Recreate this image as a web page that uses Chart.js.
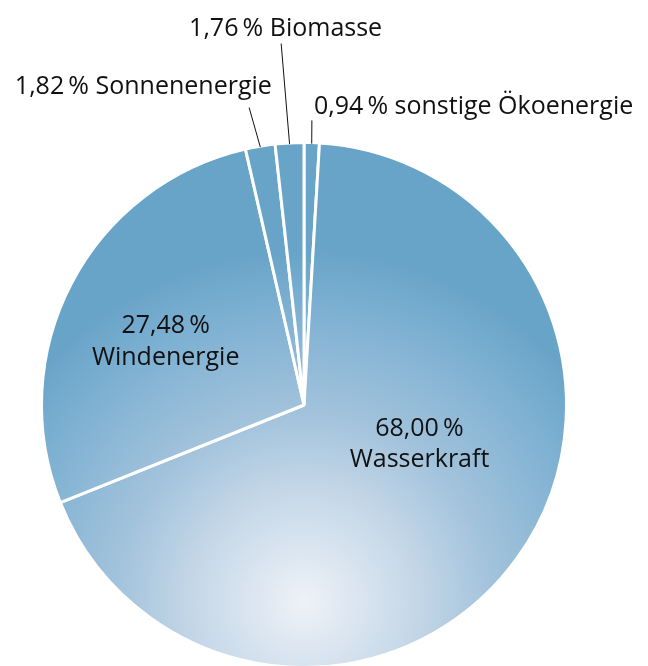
<!DOCTYPE html>
<html>
<head>
<meta charset="utf-8">
<script src="https://cdn.jsdelivr.net/npm/chart.js@4/dist/chart.umd.min.js"></script>
<style>
  html, body { margin: 0; background: #fff; overflow: hidden; }
  #wrap { width: 648px; height: 680px; position: relative; }
</style>
</head>
<body>
<div id="wrap"><canvas id="pieChart"></canvas></div>
<script>
// Anteile erneuerbarer Energien, im Uhrzeigersinn ab 12 Uhr
const categories = ['sonstige Ökoenergie', 'Wasserkraft', 'Windenergie', 'Sonnenenergie', 'Biomasse'];
const shares = [0.94, 68.00, 27.48, 1.82, 1.76];
const shareLabels = ['0,94\u2009%', '68,00\u2009%', '27,48\u2009%', '1,82\u2009%', '1,76\u2009%'];

// label placement in units of the pie radius, relative to the centre
const labelPlaces = [
  { dx: 0.646, dy: -1.110, inline: true, line: { dx: 0.030, dy: -1.084 } },
  { dx: 0.440, dy: 0.118 },
  { dx: -0.527, dy: -0.274 },
  { dx: -0.612, dy: -1.183, inline: true, line: { dx: -0.209, dy: -1.133 } },
  { dx: -0.070, dy: -1.407, inline: true, line: { dx: -0.087, dy: -1.377 } }
];

const FONT = '25px "Open Sans"';

function pieFill(ctx) {
  const chart = ctx.chart;
  const area = chart.chartArea;
  if (!area) return '#68a4c8';
  const cx = (area.left + area.right) / 2;
  const cy = (area.top + area.bottom) / 2;
  const r = Math.min(area.right - area.left, area.bottom - area.top) / 2;
  const g = chart.ctx.createRadialGradient(cx, cy + 0.745 * r, 0, cx, cy + 0.745 * r, 1.33 * r);
  g.addColorStop(0, '#eef2f8');
  g.addColorStop(0.31, '#c6d8e8');
  g.addColorStop(0.53, '#a3c3dc');
  g.addColorStop(0.85, '#7bafd1');
  g.addColorStop(1, '#68a4c8');
  return g;
}

const calloutLabels = {
  id: 'calloutLabels',
  afterDatasetsDraw(chart) {
    const ctx = chart.ctx;
    const arcs = chart.getDatasetMeta(0).data;
    if (!arcs.length) return;
    const cx = arcs[0].x, cy = arcs[0].y, r = arcs[0].outerRadius;
    ctx.save();
    ctx.font = FONT;
    ctx.fillStyle = '#111';
    ctx.strokeStyle = '#111';
    ctx.lineWidth = 1;
    ctx.textAlign = 'center';
    ctx.textBaseline = 'alphabetic';
    labelPlaces.forEach((p, i) => {
      const x = cx + p.dx * r, y = cy + p.dy * r;
      if (p.inline) {
        ctx.fillText(shareLabels[i] + ' ' + categories[i], x, y);
        const arc = arcs[i];
        const mid = (arc.startAngle + arc.endAngle) / 2;
        ctx.beginPath();
        ctx.moveTo(cx + p.line.dx * r, cy + p.line.dy * r);
        ctx.lineTo(cx + Math.cos(mid) * (r - 1), cy + Math.sin(mid) * (r - 1));
        ctx.stroke();
      } else {
        ctx.fillText(shareLabels[i], x, y);
        ctx.fillText(categories[i], x, y + 0.12 * r);
      }
    });
    ctx.restore();
  }
};

const pieChart = new Chart(document.getElementById('pieChart'), {
  type: 'pie',
  data: {
    labels: categories,
    datasets: [{
      data: shares,
      backgroundColor: pieFill,
      borderColor: '#ffffff',
      borderWidth: 3
    }]
  },
  options: {
    responsive: true,
    maintainAspectRatio: false,
    animation: false,
    layout: { padding: { left: 40, right: 80, top: 141, bottom: 11 } },
    plugins: {
      legend: { display: false },
      tooltip: { enabled: false }
    }
  },
  plugins: [calloutLabels]
});
</script>
</body>
</html>
